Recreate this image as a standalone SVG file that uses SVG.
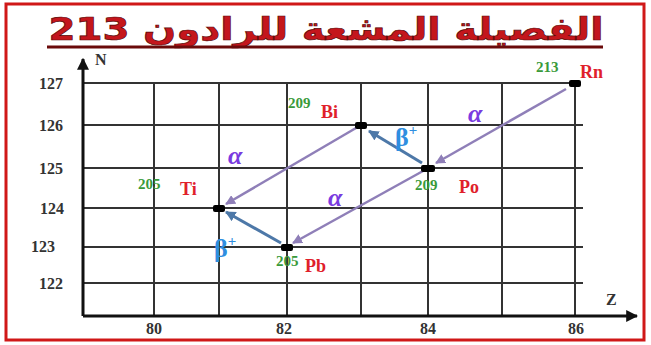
<svg xmlns="http://www.w3.org/2000/svg" width="651" height="345" viewBox="0 0 651 345">
<style>
.grid{stroke:#333;stroke-width:2;fill:none}
.axis{stroke:#111;stroke-width:3;fill:none}
.tick{font-family:"Liberation Serif",serif;font-weight:bold;font-size:16px;fill:#333}
.mass{font-family:"Liberation Serif",serif;font-weight:bold;font-size:15px;fill:#3a9a3a}
.sym{font-family:"Liberation Serif",serif;font-weight:bold;font-size:18px;fill:#e0202a}
.alpha{stroke:#8f7fb8;stroke-width:2.5;fill:none}
.beta{stroke:#4d78a8;stroke-width:3;fill:none}
.al{font-family:"Liberation Serif",serif;font-weight:bold;font-style:italic;font-size:26px;fill:#7a3be0}
.bl{font-family:"Liberation Serif",serif;font-weight:bold;font-size:26px;fill:#2f8ee0}
.dot{fill:#000}
</style>
<defs>
<marker id="ma" viewBox="0 0 10 10" refX="9" refY="5" markerWidth="4" markerHeight="4" orient="auto"><path d="M0,0 L10,5 L0,10 z" fill="#8f7fb8"/></marker>
<marker id="mb" viewBox="0 0 10 10" refX="9" refY="5" markerWidth="3.5" markerHeight="3.5" orient="auto"><path d="M0,0 L10,5 L0,10 z" fill="#4d78a8"/></marker>
<marker id="mk" viewBox="0 0 10 10" refX="9" refY="5" markerWidth="4" markerHeight="4" orient="auto"><path d="M0,0 L10,5 L0,10 z" fill="#111"/></marker>
</defs>
<rect x="0" y="0" width="651" height="345" fill="#fff"/>
<rect x="6" y="4" width="638" height="336" fill="none" stroke="#d01818" stroke-width="3"/>
<g id="title">
<text x="326" y="40" text-anchor="middle" font-family="DejaVu Sans,sans-serif" font-weight="bold" font-size="32" fill="#c4161c" stroke="#5a0a0a" stroke-width="0.7" direction="rtl" textLength="555" lengthAdjust="spacingAndGlyphs">الفصيلة المشعة للرادون 213</text>
<line x1="47" y1="47" x2="603" y2="47" stroke="#6a0a0a" stroke-width="3"/>
</g>
<g id="grid">
<path class="grid" d="M83 83H580 M83 125H583 M83 168H583 M83 208H583 M83 247H583 M83 283H583 M154 83V316 M219 83V316 M287 83V316 M361 83V316 M428 83V316 M502 83V316 M575 83V316"/>
<line class="axis" x1="83" y1="316" x2="83" y2="59" marker-end="url(#mk)"/>
<line class="axis" x1="83" y1="316" x2="637" y2="316" marker-end="url(#mk)"/>
<text x="95" y="65" class="tick" font-size="14">N</text>
<text x="606" y="305" class="tick" font-size="15">Z</text>
<text x="63" y="89" class="tick" text-anchor="end">127</text>
<text x="63" y="131" class="tick" text-anchor="end">126</text>
<text x="63" y="174" class="tick" text-anchor="end">125</text>
<text x="64" y="214" class="tick" text-anchor="end">124</text>
<text x="55" y="252" class="tick" text-anchor="end">123</text>
<text x="63" y="289" class="tick" text-anchor="end">122</text>
<text x="154" y="334" class="tick" text-anchor="middle">80</text>
<text x="284" y="334" class="tick" text-anchor="middle">82</text>
<text x="428" y="334" class="tick" text-anchor="middle">84</text>
<text x="576" y="334" class="tick" text-anchor="middle">86</text>
</g>
<g id="connectors">
<line class="alpha" x1="566" y1="89" x2="436" y2="163" marker-end="url(#ma)"/>
<line class="alpha" x1="356" y1="128" x2="226" y2="204" marker-end="url(#ma)"/>
<line class="alpha" x1="423" y1="171" x2="293" y2="243" marker-end="url(#ma)"/>
<line class="beta" x1="422" y1="163" x2="369" y2="131" marker-end="url(#mb)"/>
<line class="beta" x1="281" y1="243" x2="226" y2="212" marker-end="url(#mb)"/>
<text x="468" y="122" class="al">α</text>
<text x="228" y="164" class="al">α</text>
<text x="328" y="206" class="al">α</text>
<text x="395" y="146" class="bl">β<tspan font-size="15" dy="-11">+</tspan></text>
<text x="214" y="257" class="bl">β<tspan font-size="15" dy="-11">+</tspan></text>
</g>
<g id="Rn"><rect class="dot" x="569" y="80" width="12" height="7" rx="2"/><text x="536" y="72" class="mass">213</text><text x="580" y="78" class="sym">Rn</text></g>
<g id="Bi"><rect class="dot" x="355" y="122" width="12" height="7" rx="2"/><text x="288" y="108" class="mass">209</text><text x="321" y="118" class="sym">Bi</text></g>
<g id="Po"><rect class="dot" x="421" y="165" width="14" height="7" rx="2"/><text x="415" y="190" class="mass">209</text><text x="459" y="193" class="sym">Po</text></g>
<g id="Ti"><rect class="dot" x="213" y="205" width="12" height="7" rx="2"/><text x="138" y="189" class="mass">205</text><text x="180" y="195" class="sym">Ti</text></g>
<g id="Pb"><rect class="dot" x="281" y="244" width="12" height="7" rx="2"/><text x="276" y="266" class="mass">205</text><text x="305" y="272" class="sym">Pb</text></g>
</svg>
